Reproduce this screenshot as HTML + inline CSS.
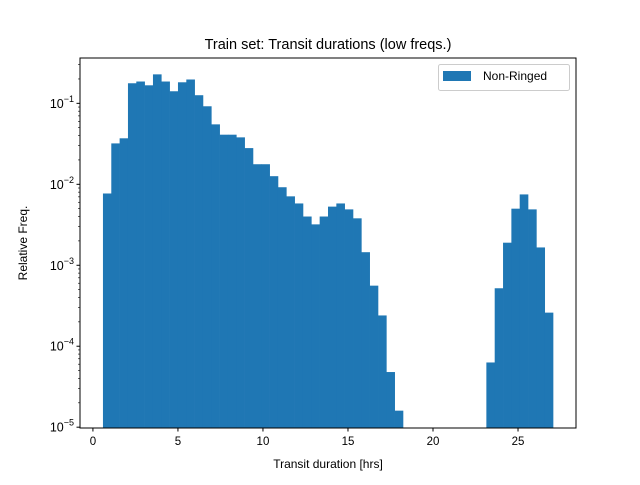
<!DOCTYPE html>
<html><head><meta charset="utf-8"><style>
body{margin:0;background:#fff;width:640px;height:480px;overflow:hidden}
svg{font-family:"Liberation Sans","DejaVu Sans",sans-serif}
</style></head><body>
<svg id="chart" width="640" height="480" viewBox="0 0 640 480" xmlns="http://www.w3.org/2000/svg">
<rect width="640" height="480" fill="#fff"/>
<g id="bars"></g>
<g id="axes"></g>
<text x="328" y="49" font-size="14.5" text-anchor="middle">Train set: Transit durations (low freqs.)</text>
<text x="328" y="468" font-size="12" text-anchor="middle">Transit duration [hrs]</text>
<text transform="translate(27,243) rotate(-90)" font-size="12" text-anchor="middle">Relative Freq.</text>
<g>
<rect x="438.5" y="64.5" width="131" height="26" rx="2" fill="#fff" stroke="#ccc"/>
<rect x="443" y="71" width="28" height="10" fill="#1f77b4"/>
<text x="483" y="80" font-size="12">Non-Ringed</text>
</g>
</svg>
<script>
const binStart = 0.59;
const binEnd = 27.06;
const freqs = [0.0077,0.032,0.037,0.177,0.186,0.167,0.228,0.186,0.141,0.182,0.197,0.126,0.092,0.055,0.041,0.041,0.038,0.028,0.0177,0.0177,0.0126,0.0092,0.0071,0.0058,0.0040,0.0032,0.0040,0.0053,0.0058,0.0049,0.0038,0.00145,0.00056,0.00024,0.000048,0.000016,0,0,0,0,0,0,0,0,0,0,0.000063,0.00052,0.0019,0.0050,0.0075,0.0049,0.00166,0.00026];
const xTicks = [0,5,10,15,20,25];
const yTicks = [-5,-4,-3,-2,-1];

const L=80,R=576,T=58,B=428;
const xMin=-0.76,xMax=28.41,yMin=-5.01,yMax=-0.44;
const X=v=>L+(v-xMin)/(xMax-xMin)*(R-L);
const Y=v=>B-(Math.log10(v)-yMin)/(yMax-yMin)*(B-T);
const NS="http://www.w3.org/2000/svg";
function mk(tag,attrs,parent){const e=document.createElementNS(NS,tag);for(const k in attrs)e.setAttribute(k,attrs[k]);parent.appendChild(e);return e;}
const bars=document.getElementById('bars'), axes=document.getElementById('axes');
const w=(binEnd-binStart)/freqs.length;
freqs.forEach((f,i)=>{
  if(f<=0)return;
  const x0=X(binStart+i*w),x1=X(binStart+(i+1)*w);
  const y=Math.max(Y(f),T);
  const r=mk('rect',{x:x0,y:y,width:x1-x0+0.3,height:B-y,fill:'#1f77b4'},bars);
  
  
});
const frame=mk('rect',{x:L,y:T,width:R-L,height:B-T,fill:'none',stroke:'#000','stroke-width':1},axes);


xTicks.forEach(t=>{
  const x=X(t);
  mk('line',{x1:x,x2:x,y1:B,y2:B+3.5,stroke:'#000'},axes);
  const tx=mk('text',{x:x,y:B+17,'font-size':11.5,'text-anchor':'middle'},axes);
  tx.textContent=t;
  
  
});
yTicks.forEach(p=>{
  const y=Y(Math.pow(10,p));
  mk('line',{x1:L-3.5,x2:L,y1:y,y2:y,stroke:'#000'},axes);
  const tx=mk('text',{x:L-6,y:y+4.5,'font-size':12.5,'text-anchor':'end'},axes);
  tx.innerHTML='10<tspan dy="-6" font-size="9">\u2212'+(-p)+'</tspan>';
  
  
  for(let m=2;m<10;m++){
    const v=m*Math.pow(10,p), yy=Y(v);
    if(yy<T)continue;
    mk('line',{x1:L-2,x2:L,y1:yy,y2:yy,stroke:'#000','stroke-width':0.6},axes);
  }
});
</script>
</body></html>
